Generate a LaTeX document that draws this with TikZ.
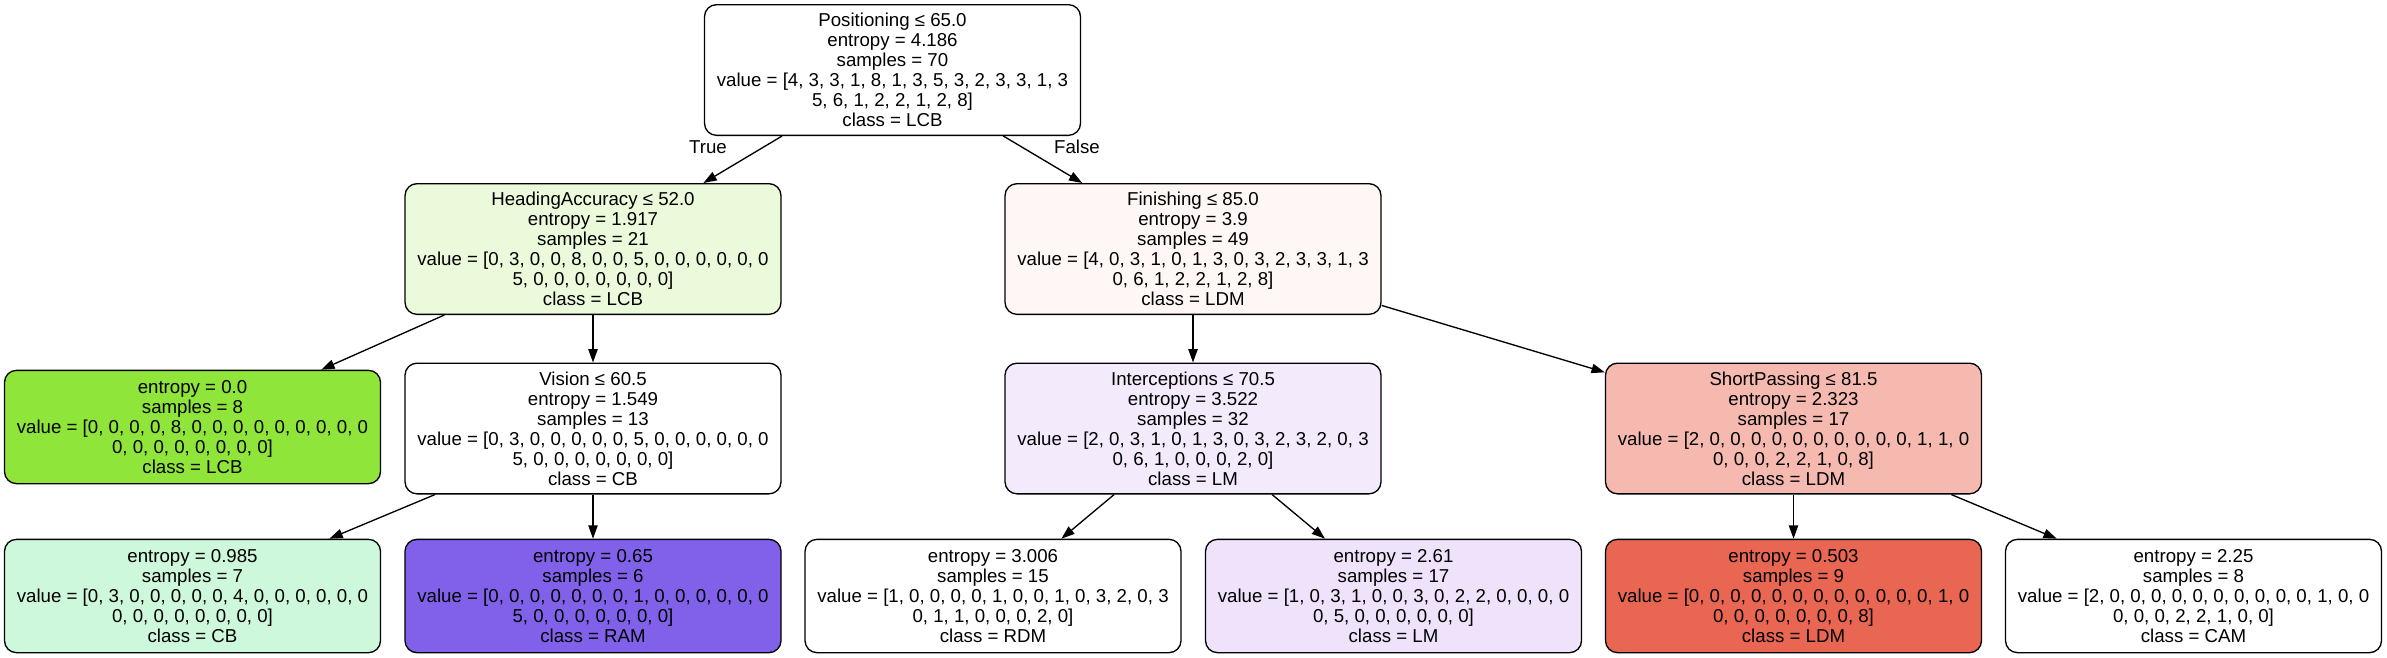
\documentclass[tikz,border=0pt]{standalone}
\usepackage{fontspec}
\setmainfont{Liberation Sans}
\usetikzlibrary{arrows.meta}
\definecolor{verdeLCB}{HTML}{8FE539}
\definecolor{verdeHA}{HTML}{EAFADA}
\definecolor{mentaCB}{HTML}{CEF8DB}
\definecolor{moradoRAM}{HTML}{8161EA}
\definecolor{rosaFin}{HTML}{FEF7F6}
\definecolor{salmonSP}{HTML}{F5B9B0}
\definecolor{rojoLDM}{HTML}{E86652}
\definecolor{lilaInt}{HTML}{F3EBFC}
\definecolor{lilaLM}{HTML}{EFE3FB}

\begin{document}
\begin{tikzpicture}[x=0.75pt,y=-0.75pt,
    every node/.style={align=center,font=\fontsize{14}{15}\selectfont},
    caja/.style={draw,rounded corners=9pt,line width=1pt,minimum width=282pt,minimum height=98pt,inner sep=2pt},
    hoja/.style={caja,minimum height=85pt},
    flecha/.style={line width=1pt,-{Triangle[length=10pt,width=7pt]}}]
    \useasboundingbox (0,0) rectangle (2387,657);
    % nodos internos
    \node[caja,fill=white] (raiz) at (892.5,70)
      {Positioning ≤ 65.0\\entropy = 4.186\\samples = 70\\value = [4, 3, 3, 1, 8, 1, 3, 5, 3, 2, 3, 3, 1, 3\\5, 6, 1, 2, 2, 1, 2, 8]\\class = LCB};
    \node[caja,fill=verdeHA] (ha) at (593,249)
      {HeadingAccuracy ≤ 52.0\\entropy = 1.917\\samples = 21\\value = [0, 3, 0, 0, 8, 0, 0, 5, 0, 0, 0, 0, 0, 0\\5, 0, 0, 0, 0, 0, 0, 0]\\class = LCB};
    \node[caja,fill=rosaFin] (fin) at (1193,249)
      {Finishing ≤ 85.0\\entropy = 3.9\\samples = 49\\value = [4, 0, 3, 1, 0, 1, 3, 0, 3, 2, 3, 3, 1, 3\\0, 6, 1, 2, 2, 1, 2, 8]\\class = LDM};
    \node[caja,fill=white] (vision) at (593,428.5)
      {Vision ≤ 60.5\\entropy = 1.549\\samples = 13\\value = [0, 3, 0, 0, 0, 0, 0, 5, 0, 0, 0, 0, 0, 0\\5, 0, 0, 0, 0, 0, 0, 0]\\class = CB};
    \node[caja,fill=lilaInt] (inter) at (1193,428.5)
      {Interceptions ≤ 70.5\\entropy = 3.522\\samples = 32\\value = [2, 0, 3, 1, 0, 1, 3, 0, 3, 2, 3, 2, 0, 3\\0, 6, 1, 0, 0, 0, 2, 0]\\class = LM};
    \node[caja,fill=salmonSP] (pase) at (1793.5,428.5)
      {ShortPassing ≤ 81.5\\entropy = 2.323\\samples = 17\\value = [2, 0, 0, 0, 0, 0, 0, 0, 0, 0, 0, 1, 1, 0\\0, 0, 0, 2, 2, 1, 0, 8]\\class = LDM};
    % hojas
    \node[hoja,fill=verdeLCB] (hojaLCB) at (192.5,427)
      {entropy = 0.0\\samples = 8\\value = [0, 0, 0, 0, 8, 0, 0, 0, 0, 0, 0, 0, 0, 0\\0, 0, 0, 0, 0, 0, 0, 0]\\class = LCB};
    \node[hoja,fill=mentaCB] (hojaCB) at (192.5,596)
      {entropy = 0.985\\samples = 7\\value = [0, 3, 0, 0, 0, 0, 0, 4, 0, 0, 0, 0, 0, 0\\0, 0, 0, 0, 0, 0, 0, 0]\\class = CB};
    \node[hoja,fill=moradoRAM] (hojaRAM) at (593,596)
      {entropy = 0.65\\samples = 6\\value = [0, 0, 0, 0, 0, 0, 0, 1, 0, 0, 0, 0, 0, 0\\5, 0, 0, 0, 0, 0, 0, 0]\\class = RAM};
    \node[hoja,fill=white] (hojaRDM) at (993,596)
      {entropy = 3.006\\samples = 15\\value = [1, 0, 0, 0, 0, 1, 0, 0, 1, 0, 3, 2, 0, 3\\0, 1, 1, 0, 0, 0, 2, 0]\\class = RDM};
    \node[hoja,fill=lilaLM] (hojaLM) at (1393.5,596)
      {entropy = 2.61\\samples = 17\\value = [1, 0, 3, 1, 0, 0, 3, 0, 2, 2, 0, 0, 0, 0\\0, 5, 0, 0, 0, 0, 0, 0]\\class = LM};
    \node[hoja,fill=rojoLDM] (hojaLDM) at (1793.5,596)
      {entropy = 0.503\\samples = 9\\value = [0, 0, 0, 0, 0, 0, 0, 0, 0, 0, 0, 0, 1, 0\\0, 0, 0, 0, 0, 0, 0, 8]\\class = LDM};
    \node[hoja,fill=white] (hojaCAM) at (2193.5,596)
      {entropy = 2.25\\samples = 8\\value = [2, 0, 0, 0, 0, 0, 0, 0, 0, 0, 0, 1, 0, 0\\0, 0, 0, 2, 2, 1, 0, 0]\\class = CAM};
    % aristas
    \draw[flecha] (raiz) -- (ha);
    \draw[flecha] (raiz) -- (fin);
    \draw[flecha] (ha) -- (hojaLCB);
    \draw[flecha] (ha) -- (vision);
    \draw[flecha] (vision) -- (hojaCB);
    \draw[flecha] (vision) -- (hojaRAM);
    \draw[flecha] (fin) -- (inter);
    \draw[flecha] (fin) -- (pase);
    \draw[flecha] (inter) -- (hojaRDM);
    \draw[flecha] (inter) -- (hojaLM);
    \draw[flecha] (pase) -- (hojaLDM);
    \draw[flecha] (pase) -- (hojaCAM);
    % etiquetas
    \node (etqTrue) at (708,147) {True};
    \node (etqFalse) at (1077,147) {False};
\end{tikzpicture}
\end{document}
